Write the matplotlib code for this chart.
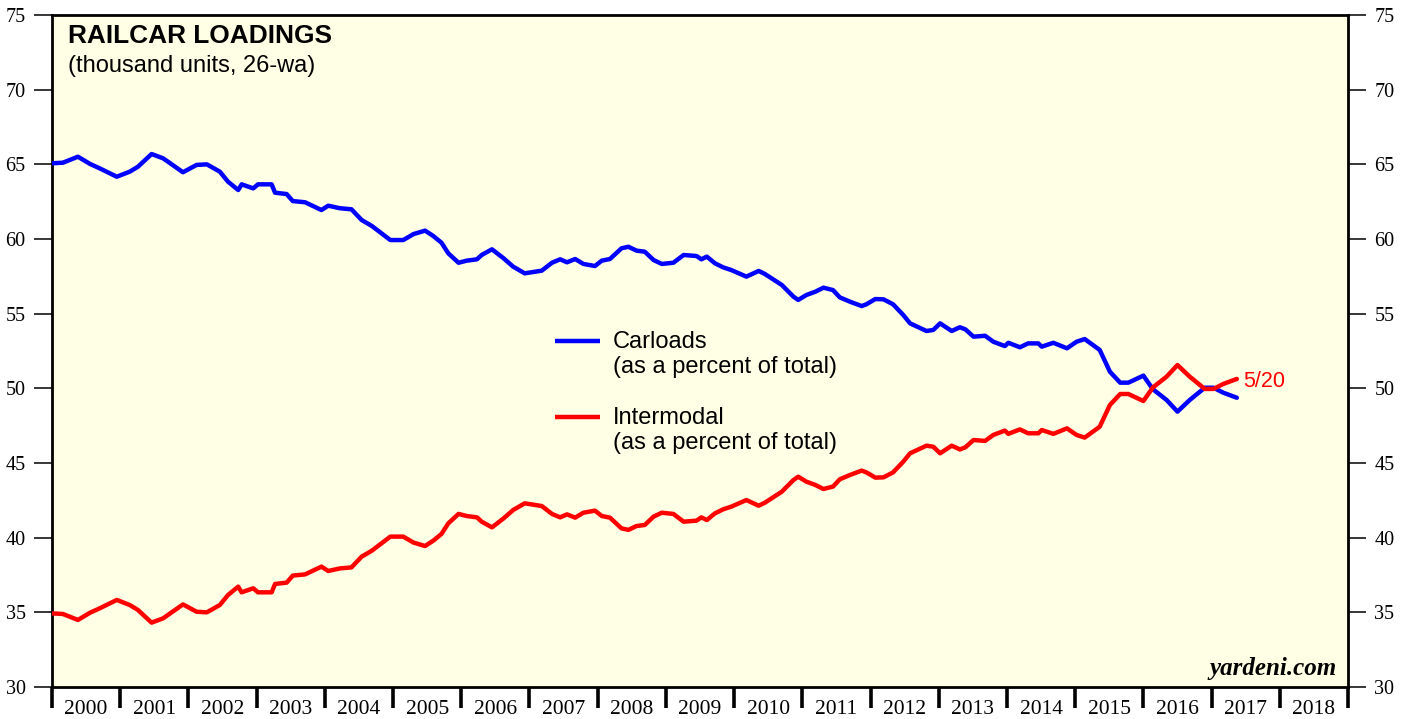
import matplotlib
matplotlib.use("Agg")
import matplotlib.pyplot as plt
from matplotlib.ticker import FixedLocator, NullFormatter, FixedFormatter

# ------------------------------------------------------------
# Data (decimal years, percent of total)
# ------------------------------------------------------------
dates = [
    2000.00, 2000.16, 2000.38, 2000.56, 2000.70, 2000.95,
    2001.14, 2001.26, 2001.46, 2001.63, 2001.92,
    2002.12, 2002.27, 2002.46, 2002.58, 2002.73, 2002.78, 2002.95,
    2003.02, 2003.22, 2003.27, 2003.44, 2003.53, 2003.71, 2003.95,
    2004.05, 2004.22, 2004.39, 2004.54, 2004.69, 2004.96,
    2005.15, 2005.30, 2005.47, 2005.59, 2005.71, 2005.81, 2005.96,
    2006.08, 2006.23, 2006.30, 2006.45, 2006.62, 2006.76, 2006.93,
    2007.18, 2007.33, 2007.45, 2007.55, 2007.67, 2007.79, 2007.96,
    2008.06, 2008.18, 2008.35, 2008.45, 2008.57, 2008.69, 2008.82, 2008.94,
    2009.11, 2009.26, 2009.45, 2009.52, 2009.60, 2009.72, 2009.84, 2009.96,
    2010.18, 2010.36, 2010.45, 2010.70, 2010.87, 2010.94,
    2011.06, 2011.19, 2011.31, 2011.45, 2011.55, 2011.70, 2011.87, 2011.94,
    2012.07, 2012.19, 2012.33, 2012.48, 2012.58, 2012.82, 2012.92,
    2013.02, 2013.19, 2013.31, 2013.39, 2013.51, 2013.68, 2013.80, 2013.97,
    2014.02, 2014.19, 2014.31, 2014.46, 2014.51, 2014.68, 2014.88,
    2015.02, 2015.14, 2015.36, 2015.51, 2015.66, 2015.78,
    2016.00, 2016.14, 2016.34, 2016.50, 2016.68, 2016.90,
    2017.03, 2017.17, 2017.37,
]

carloads = [
    65.07, 65.11, 65.51, 65.02, 64.73, 64.17,
    64.51, 64.84, 65.69, 65.40, 64.47,
    64.96, 65.00, 64.51, 63.84, 63.28, 63.66, 63.39,
    63.66, 63.66, 63.10, 63.01, 62.54, 62.46, 61.94,
    62.23, 62.06, 61.99, 61.27, 60.87, 59.93,
    59.93, 60.33, 60.56, 60.20, 59.75, 59.04, 58.41,
    58.55, 58.64, 58.93, 59.31, 58.71, 58.15, 57.70,
    57.88, 58.41, 58.64, 58.44, 58.66, 58.33, 58.19,
    58.55, 58.66, 59.38, 59.48, 59.22, 59.15, 58.59, 58.33,
    58.41, 58.93, 58.86, 58.64, 58.82, 58.37, 58.10, 57.92,
    57.48, 57.86, 57.66, 56.92, 56.14, 55.92,
    56.25, 56.47, 56.74, 56.58, 56.09, 55.80, 55.51, 55.63,
    55.98, 55.96, 55.63, 54.91, 54.35, 53.84, 53.91,
    54.35, 53.84, 54.09, 53.95, 53.46, 53.52, 53.12, 52.83,
    53.05, 52.75, 53.01, 53.01, 52.79, 53.05, 52.68,
    53.12, 53.30, 52.57, 51.11, 50.38, 50.38,
    50.85, 49.94, 49.22, 48.44, 49.22, 50.04,
    50.04, 49.71, 49.37,
]

intermodal = [
    34.93, 34.89, 34.49, 34.98, 35.27, 35.83,
    35.49, 35.16, 34.31, 34.60, 35.53,
    35.04, 35.00, 35.49, 36.16, 36.72, 36.34, 36.61,
    36.34, 36.34, 36.90, 36.99, 37.46, 37.54, 38.06,
    37.77, 37.94, 38.01, 38.73, 39.13, 40.07,
    40.07, 39.67, 39.44, 39.80, 40.25, 40.96, 41.59,
    41.45, 41.36, 41.07, 40.69, 41.29, 41.85, 42.30,
    42.12, 41.59, 41.36, 41.56, 41.34, 41.67, 41.81,
    41.45, 41.34, 40.62, 40.52, 40.78, 40.85, 41.41, 41.67,
    41.59, 41.07, 41.14, 41.36, 41.18, 41.63, 41.90, 42.08,
    42.52, 42.14, 42.34, 43.08, 43.86, 44.08,
    43.75, 43.53, 43.26, 43.42, 43.91, 44.20, 44.49, 44.37,
    44.02, 44.04, 44.37, 45.09, 45.65, 46.16, 46.09,
    45.65, 46.16, 45.91, 46.05, 46.54, 46.48, 46.88, 47.17,
    46.95, 47.25, 46.99, 46.99, 47.21, 46.95, 47.32,
    46.88, 46.70, 47.43, 48.89, 49.62, 49.62,
    49.15, 50.06, 50.78, 51.56, 50.78, 49.96,
    49.96, 50.29, 50.63,
]

years = list(range(2000, 2019))
y_ticks = [30, 35, 40, 45, 50, 55, 60, 65, 70, 75]
last_label = "5/20"

# ------------------------------------------------------------
# Figure
# ------------------------------------------------------------
W, H = 1407, 719
fig = plt.figure(figsize=(W / 100, H / 100), dpi=100)
ax = fig.add_axes([52 / W, 32 / H, 1296 / W, 672 / H])
ax.set_facecolor("#FFFFE5")

BLUE = "#0000FF"
RED = "#FF0000"
ax.plot(dates, carloads, color=BLUE, lw=3.2, solid_capstyle="round", zorder=3)
ax.plot(dates, intermodal, color=RED, lw=3.2, solid_capstyle="round", zorder=3)

ax.set_xlim(2000, 2019)
ax.set_ylim(30, 75)

for s in ax.spines.values():
    s.set_linewidth(2.0)
    s.set_color("black")

serif = "Liberation Serif"
sans = "Liberation Sans"


def ypos(py):
    # pixel row in the 719px picture -> axes fraction
    return (687 - py) / 672


# y axis on both sides
ax.set_yticks(y_ticks)
ax.set_yticklabels([str(v) for v in y_ticks])
ax.tick_params(axis="y", which="major", direction="out", length=13, width=1.1,
               left=True, right=True, labelleft=True, labelright=True, pad=6,
               labelsize=14.5)
for lab in ax.get_yticklabels():
    lab.set_fontfamily(serif)

# x axis: boundary ticks, labels centred in each year
ax.xaxis.set_major_locator(FixedLocator(list(range(2000, 2020))))
ax.xaxis.set_major_formatter(NullFormatter())
ax.xaxis.set_minor_locator(FixedLocator([y + 0.5 for y in years]))
ax.xaxis.set_minor_formatter(FixedFormatter([str(y) for y in years]))
ax.tick_params(axis="x", which="major", direction="out", length=15, width=2.6)
ax.tick_params(axis="x", which="minor", length=0, pad=9, labelsize=15.5)
for lab in ax.get_xticklabels(minor=True):
    lab.set_fontfamily(serif)

# titles
ax.text(0.0123, ypos(43), "RAILCAR LOADINGS", transform=ax.transAxes,
        fontsize=18.9, fontweight="bold", family=sans, va="baseline")
ax.text(0.0123, ypos(72), "(thousand units, 26-wa)", transform=ax.transAxes,
        fontsize=17, family=sans, va="baseline")

# legend drawn by hand, like the original
lx0, lx1, tx = 0.3881, 0.4228, 0.4329
ax.plot([lx0, lx1], [ypos(341)] * 2, transform=ax.transAxes,
        color=BLUE, lw=3.2, solid_capstyle="butt")
ax.text(tx, ypos(348), "Carloads", transform=ax.transAxes,
        fontsize=17, family=sans, va="baseline")
ax.text(tx, ypos(373), "(as a percent of total)", transform=ax.transAxes,
        fontsize=17, family=sans, va="baseline")
ax.plot([lx0, lx1], [ypos(417)] * 2, transform=ax.transAxes,
        color=RED, lw=3.2, solid_capstyle="butt")
ax.text(tx, ypos(424), "Intermodal", transform=ax.transAxes,
        fontsize=17, family=sans, va="baseline")
ax.text(tx, ypos(449), "(as a percent of total)", transform=ax.transAxes,
        fontsize=17, family=sans, va="baseline")

# last-value label
ax.annotate(last_label, xy=(dates[-1], intermodal[-1]), xytext=(4.5, -1.5),
            textcoords="offset points", color=RED, fontsize=15.5,
            family=sans, va="center", ha="left")

ax.text(0.9915, ypos(675), "yardeni.com", transform=ax.transAxes, ha="right",
        va="baseline", fontsize=18, family=serif, fontweight="bold",
        fontstyle="italic")

fig.savefig("out.png", dpi=100, facecolor="white")
